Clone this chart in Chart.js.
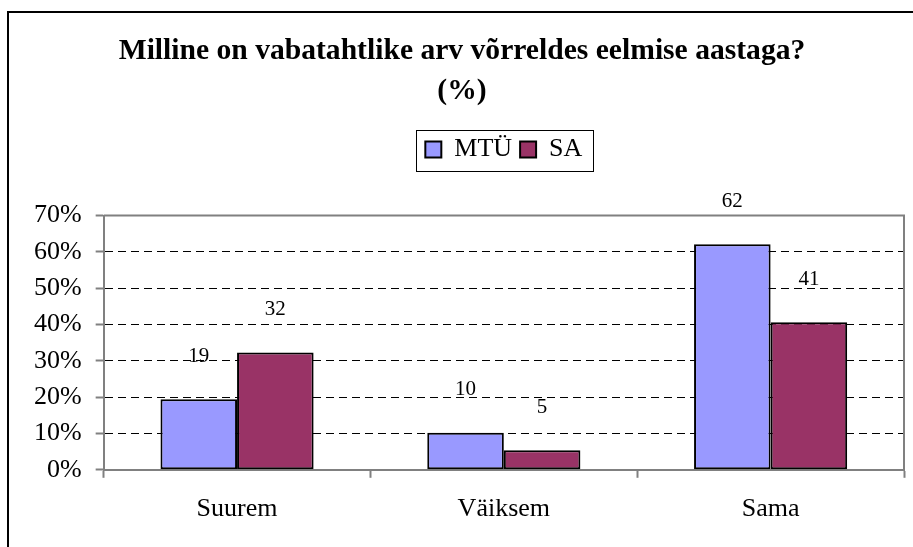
<!DOCTYPE html>
<html>
<head>
<meta charset="utf-8">
<script src="https://cdn.jsdelivr.net/npm/chart.js@4.4.0/dist/chart.umd.min.js"></script>
<style>
  html, body { margin: 0; padding: 0; background: #fff; }
  #wrap { width: 913px; height: 547px; }
</style>
</head>
<body>
<div id="wrap"><canvas id="chart" width="913" height="547"></canvas></div>
<script>
const categories = ['Suurem', 'Väiksem', 'Sama'];
const mtuValues = [19.4, 10.2, 62.1];
const saValues = [32.3, 5.4, 40.6];
const yTicks = [0, 10, 20, 30, 40, 50, 60, 70];

const serif = '"Liberation Serif", "Times New Roman", serif';

// kast ümber kogu joonise (üla- ja vasak serv)
const outerFrame = {
  id: 'outerFrame',
  afterDraw(chart) {
    const ctx = chart.ctx;
    ctx.save();
    ctx.strokeStyle = '#000';
    ctx.lineWidth = 2;
    ctx.beginPath();
    ctx.moveTo(8, chart.height);
    ctx.lineTo(8, 12);
    ctx.lineTo(chart.width, 12);
    ctx.stroke();
    ctx.restore();
  }
};

// joonise ala ülemine ja parem serv
const plotFrame = {
  id: 'plotFrame',
  beforeDatasetsDraw(chart) {
    const { left, top, right, bottom } = chart.chartArea;
    const ctx = chart.ctx;
    ctx.save();
    ctx.strokeStyle = '#808080';
    ctx.lineWidth = 2;
    ctx.beginPath();
    ctx.moveTo(left, top);
    ctx.lineTo(right, top);
    ctx.lineTo(right, bottom);
    ctx.stroke();
    ctx.restore();
  }
};

// raam ümber legendi + vahe legendi all
const legendBox = {
  id: 'legendBox',
  beforeInit(chart) {
    const fit = chart.legend.fit;
    chart.legend.fit = function () {
      fit.bind(this)();
      this.height += 43;
    };
  },
  afterDraw(chart) {
    const boxes = chart.legend.legendHitBoxes;
    if (!boxes || !boxes.length) return;
    const first = boxes[0];
    const last = boxes[boxes.length - 1];
    const cy = first.top + first.height / 2;
    const ctx = chart.ctx;
    ctx.save();
    ctx.strokeStyle = '#000';
    ctx.lineWidth = 1;
    ctx.strokeRect(Math.round(first.left - 9) + 0.5, Math.round(cy - 20) + 0.5,
      Math.round(last.left + last.width - first.left + 20), 41);
    ctx.restore();
  }
};

// väärtused tulpade kohal
const barLabels = {
  id: 'barLabels',
  afterDatasetsDraw(chart) {
    const ctx = chart.ctx;
    ctx.save();
    ctx.font = '21px ' + serif;
    ctx.fillStyle = '#000';
    ctx.textAlign = 'center';
    ctx.textBaseline = 'middle';
    chart.data.datasets.forEach((ds, i) => {
      chart.getDatasetMeta(i).data.forEach((bar, j) => {
        ctx.fillText(String(Math.round(ds.data[j])), bar.x, bar.y - 43);
      });
    });
    ctx.restore();
  }
};

new Chart(document.getElementById('chart').getContext('2d'), {
  type: 'bar',
  data: {
    labels: categories,
    datasets: [
      {
        label: 'MTÜ',
        data: mtuValues,
        backgroundColor: '#9999FF',
        borderColor: '#000',
        borderWidth: 2,
        borderSkipped: false
      },
      {
        label: 'SA',
        data: saValues,
        backgroundColor: '#993366',
        borderColor: '#000',
        borderWidth: 2,
        borderSkipped: false
      }
    ]
  },
  options: {
    responsive: false,
    animation: false,
    layout: { padding: { top: 10, left: 20, right: 9, bottom: 6 } },
    datasets: {
      bar: { categoryPercentage: 0.574, barPercentage: 1 }
    },
    plugins: {
      title: {
        display: true,
        text: ['Milline on vabatahtlike arv võrreldes eelmise aastaga?', '(%)'],
        color: '#000',
        font: { family: serif, size: 29.6, weight: 'bold', lineHeight: '40px' },
        padding: { top: 21, bottom: 17.5 }
      },
      legend: {
        display: true,
        fullSize: false,
        labels: {
          color: '#000',
          font: { family: serif, size: 26 },
          boxWidth: 16,
          boxHeight: 16,
          padding: 8
        }
      },
      tooltip: { enabled: false }
    },
    scales: {
      x: {
        grid: {
          drawOnChartArea: false,
          drawTicks: true,
          tickLength: 8,
          tickColor: '#808080',
          tickWidth: 2
        },
        border: { color: '#808080', width: 2 },
        ticks: { color: '#000', font: { family: serif, size: 26 }, padding: 16 }
      },
      y: {
        min: 0,
        max: 70,
        afterBuildTicks(axis) {
          axis.ticks = yTicks.map(v => ({ value: v }));
        },
        grid: {
          color: ctx => (ctx.tick && (ctx.tick.value === 0 || ctx.tick.value === 70)) ? 'rgba(0,0,0,0)' : '#000',
          lineWidth: 1,
          tickLength: 8,
          tickColor: '#808080',
          tickWidth: 2
        },
        border: { color: '#808080', width: 2, dash: [8, 5] },
        ticks: {
          color: '#000',
          font: { family: serif, size: 26 },
          padding: 14,
          callback: v => v + '%'
        }
      }
    }
  },
  plugins: [outerFrame, plotFrame, legendBox, barLabels]
});
</script>
</body>
</html>
